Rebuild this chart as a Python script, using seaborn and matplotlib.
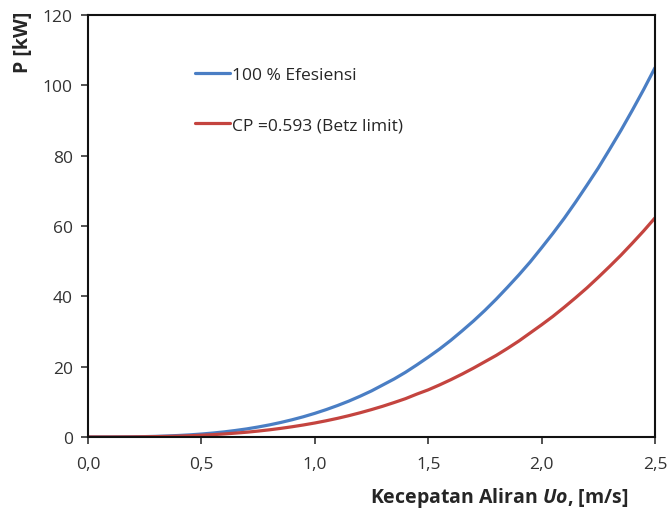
import matplotlib.pyplot as plt
import pandas as pd
import seaborn as sns

# values
speed = [0.0, 0.05, 0.1, 0.15, 0.2, 0.25, 0.3, 0.35, 0.4, 0.45, 0.5, 0.55,
         0.6, 0.65, 0.7, 0.75, 0.8, 0.85, 0.9, 0.95, 1.0, 1.05, 1.1, 1.15,
         1.2, 1.25, 1.3, 1.35, 1.4, 1.45, 1.5, 1.55, 1.6, 1.65, 1.7, 1.75,
         1.8, 1.85, 1.9, 1.95, 2.0, 2.05, 2.1, 2.15, 2.2, 2.25, 2.3, 2.35,
         2.4, 2.45, 2.5]
power_full = [0.0, 0.001, 0.007, 0.023, 0.05, 0.105, 0.18, 0.29, 0.43, 0.61,
              0.84, 1.12, 1.45, 1.85, 2.3, 2.84, 3.44, 4.13, 4.9, 5.76, 6.72,
              7.78, 8.94, 10.2, 11.6, 13.1, 14.8, 16.5, 18.4, 20.5, 22.7,
              25.0, 27.5, 30.2, 33.0, 36.0, 39.2, 42.6, 46.1, 49.8, 53.8,
              57.9, 62.2, 66.8, 71.6, 76.5, 81.8, 87.2, 92.9, 98.8, 105.0]
power_betz = [0.0, 0.0005, 0.004, 0.014, 0.03, 0.062, 0.11, 0.17, 0.25, 0.36,
              0.50, 0.66, 0.86, 1.10, 1.36, 1.68, 2.04, 2.45, 2.91, 3.42,
              3.98, 4.61, 5.30, 6.06, 6.89, 7.79, 8.75, 9.80, 10.9, 12.2,
              13.4, 14.8, 16.3, 17.9, 19.6, 21.4, 23.2, 25.2, 27.3, 29.6,
              31.9, 34.3, 36.9, 39.6, 42.4, 45.4, 48.5, 51.7, 55.1, 58.6, 62.3]
labels = ['100 % Efesiensi', 'CP =0.593 (Betz limit)']
colors = ['#4A7EC4', '#C4443F']

sns.set_style('ticks')
plt.rcParams['font.family'] = ['Open Sans', 'DejaVu Sans']
plt.rcParams['mathtext.fontset'] = 'custom'
plt.rcParams['mathtext.bfit'] = 'Open Sans:bold:italic'
plt.rcParams['mathtext.bf'] = 'Open Sans:bold'
plt.rcParams['mathtext.rm'] = 'Open Sans'

df = pd.DataFrame({
    'U': speed * 2,
    'P': power_full + power_betz,
    'series': [labels[0]] * len(speed) + [labels[1]] * len(speed),
})

fig = plt.figure(figsize=(6.68, 5.10), dpi=100)
ax = fig.add_axes([0.1317, 0.1412, 0.8488, 0.8274])

sns.lineplot(data=df, x='U', y='P', hue='series', palette=colors,
             linewidth=2.3, ax=ax)

ax.set_xlim(0, 2.5)
ax.set_ylim(0, 120)
ax.set_xticks([0, 0.5, 1.0, 1.5, 2.0, 2.5])
ax.set_xticklabels(['0,0', '0,5', '1,0', '1,5', '2,0', '2,5'])
ax.set_yticks(range(0, 121, 20))
ax.tick_params(direction='out', length=5, width=1.2, labelsize=12.5,
               colors='#333333', pad=6)
ax.tick_params(axis='x', pad=9)
for s in ax.spines.values():
    s.set_linewidth(1.5)
    s.set_color('#111111')

ax.set_ylabel('P [kW]', fontsize=14, fontweight='bold')
ax.set_xlabel(r'Kecepatan Aliran $\mathbfit{Uo}$, [m/s]', fontsize=14,
              fontweight='bold')
ax.xaxis.set_label_coords(0.952, -0.143)
ax.xaxis.label.set_horizontalalignment('right')
ax.xaxis.label.set_verticalalignment('center')
ax.yaxis.set_label_coords(-0.097, 0.938)

ax.legend(loc='upper left', bbox_to_anchor=(0.162, 0.915), frameon=False,
          handlelength=2.0, handletextpad=0.1, labelspacing=2.0,
          fontsize=12.5)

fig.savefig('out.png', dpi=100)
